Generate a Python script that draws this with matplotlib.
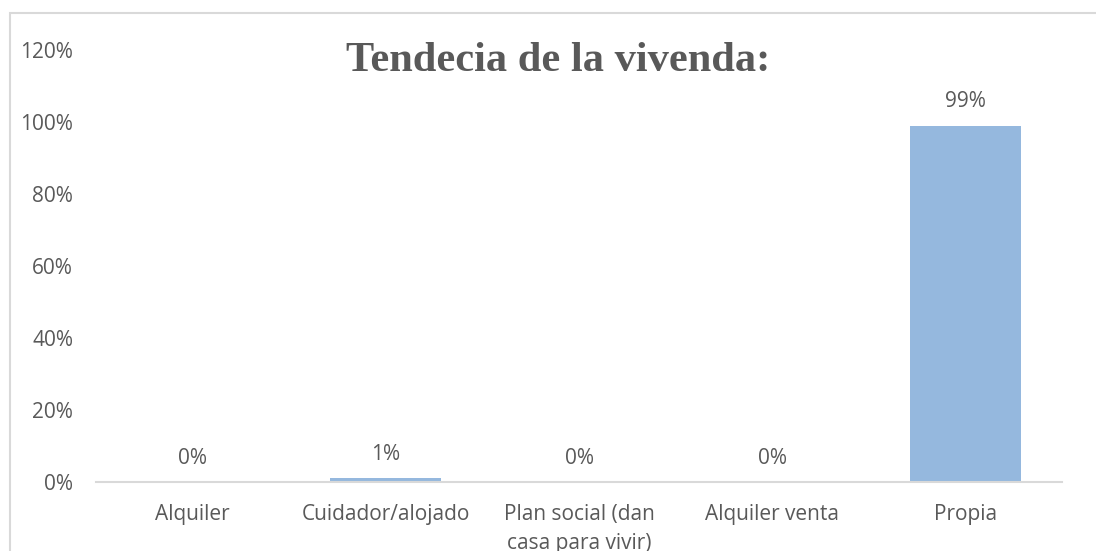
import matplotlib.pyplot as plt
from matplotlib.patches import Rectangle

categorias = ["Alquiler", "Cuidador/alojado", "Plan social (dan\ncasa para vivir)",
              "Alquiler venta", "Propia"]
porcentajes = [0, 1, 0, 0, 99]
etiquetas = ["0%", "1%", "0%", "0%", "99%"]
ticks_y = [0, 20, 40, 60, 80, 100, 120]

gris = "#595959"
fuente = "Open Sans"
tam = 15

fig = plt.figure(figsize=(10.96, 5.51), dpi=100)
ax = fig.add_axes([96 / 1096, 69 / 551, 966 / 1096, 432 / 551])

# marco exterior del grafico
fig.patches.append(Rectangle((10 / 1096, -0.1), 1.2, 1 - 13 / 551 + 0.1,
                             transform=fig.transFigure, fill=False,
                             edgecolor="#D9D9D9", linewidth=1.5))

x = range(len(categorias))
ax.bar(x, porcentajes, width=0.575, color="#95B8DE", zorder=2)

for xi, v, t in zip(x, porcentajes, etiquetas):
    ax.annotate(t, (xi, v), xytext=(0, 17), textcoords="offset points",
                ha="center", va="center", fontsize=tam, color=gris, family=fuente)

ax.set_xlim(-0.5, len(categorias) - 0.5)
ax.set_ylim(0, 120)
ax.set_yticks(ticks_y)
ax.set_yticklabels([f"{t}%" for t in ticks_y], family=fuente, fontsize=tam, color=gris)
ax.set_xticks(list(x))
ax.set_xticklabels(categorias, family=fuente, fontsize=tam, color=gris, linespacing=1.5)

for s in ["top", "right", "left"]:
    ax.spines[s].set_visible(False)
ax.spines["bottom"].set_color("#D9D9D9")
ax.spines["bottom"].set_linewidth(1.5)
ax.tick_params(length=0)
ax.tick_params(axis="y", pad=16.5)
ax.tick_params(axis="x", pad=16)

fig.text(558 / 1096, 1 - 61 / 551, "Tendecia de la vivenda:", ha="center", va="center",
         family="Liberation Serif", fontweight="bold", fontsize=30.5, color=gris)

fig.savefig("out.png", dpi=100)
